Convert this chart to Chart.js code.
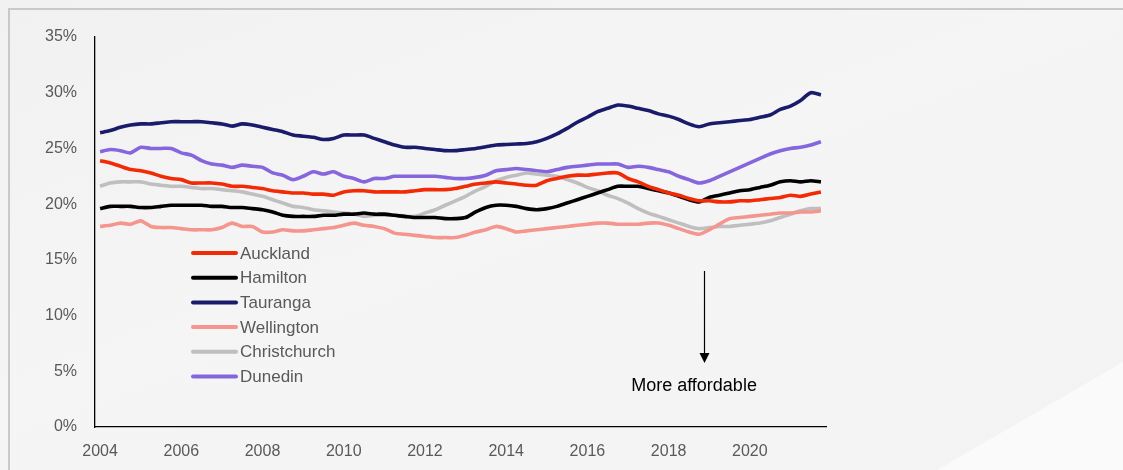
<!DOCTYPE html>
<html>
<head>
<meta charset="utf-8">
<script src="https://cdn.jsdelivr.net/npm/chart.js@4.4.1/dist/chart.umd.min.js"></script>
<style>
  html, body { margin: 0; padding: 0; }
  body {
    width: 1123px; height: 470px; overflow: hidden; position: relative;
    background: linear-gradient(160deg, #f1f1f1 0%, #f5f5f5 45%, #f3f3f3 100%);
  }
  #shine {
    position: absolute; left: 0; top: 0; width: 1123px; height: 470px;
    background: #fafafa;
    clip-path: polygon(937px 470px, 1123px 362px, 1123px 470px);
  }
  #frame {
    position: absolute; left: 8px; top: 8px; right: -10px; bottom: -10px;
    border-top: 2px solid #c9c9c9; border-left: 2px solid #c9c9c9;
  }
  #chart { position: absolute; left: 0; top: 0; }
</style>
</head>
<body>
<div id="shine"></div>
<div id="frame"></div>
<canvas id="chart" width="1123" height="470"></canvas>
<script>
// Quarterly series, 2004 Q1 - 2021 Q4
const years = [2004, 2005, 2006, 2007, 2008, 2009, 2010, 2011, 2012,
               2013, 2014, 2015, 2016, 2017, 2018, 2019, 2020, 2021];
const quarters = [];
years.forEach(y => { for (let q = 1; q <= 4; q++) quarters.push(y + " Q" + q); });

const auckland = [
  23.9, 23.7, 23.4, 23.1, 23.0, 22.8, 22.5, 22.3, 22.2, 21.9, 21.9, 21.9,
  21.8, 21.6, 21.6, 21.5, 21.4, 21.2, 21.1, 21.0, 21.0, 20.9, 20.9, 20.8,
  21.1, 21.2, 21.2, 21.1, 21.1, 21.1, 21.1, 21.2, 21.3, 21.3, 21.3, 21.4,
  21.6, 21.8, 21.9, 22.0, 21.9, 21.8, 21.7, 21.7, 22.1, 22.3, 22.5, 22.6,
  22.6, 22.7, 22.8, 22.8, 22.3, 22.0, 21.6, 21.3, 21.0, 20.8, 20.5, 20.3,
  20.3, 20.2, 20.2, 20.3, 20.3, 20.4, 20.5, 20.6, 20.8, 20.7, 20.9, 21.1
];
const hamilton = [
  19.6, 19.8, 19.8, 19.8, 19.7, 19.7, 19.8, 19.9, 19.9, 19.9, 19.9, 19.8,
  19.8, 19.7, 19.7, 19.6, 19.5, 19.3, 19.0, 18.9, 18.9, 18.9, 19.0, 19.0,
  19.1, 19.1, 19.2, 19.1, 19.1, 19.0, 18.9, 18.8, 18.8, 18.8, 18.7, 18.7,
  18.8, 19.3, 19.7, 19.9, 19.9, 19.8, 19.6, 19.5, 19.6, 19.8, 20.1, 20.4,
  20.7, 21.0, 21.3, 21.6, 21.6, 21.6, 21.4, 21.2, 21.0, 20.7, 20.4, 20.2,
  20.6, 20.8, 21.0, 21.2, 21.3, 21.5, 21.7, 22.0, 22.1, 22.0, 22.1, 22.0
];
const tauranga = [
  26.4, 26.6, 26.9, 27.1, 27.2, 27.2, 27.3, 27.4, 27.4, 27.4, 27.4, 27.3,
  27.2, 27.0, 27.2, 27.1, 26.9, 26.7, 26.5, 26.2, 26.1, 26.0, 25.8, 25.9,
  26.2, 26.2, 26.2, 25.9, 25.6, 25.3, 25.1, 25.1, 25.0, 24.9, 24.8, 24.8,
  24.9, 25.0, 25.15, 25.3, 25.35, 25.4, 25.45, 25.6, 25.9, 26.3, 26.8, 27.35,
  27.8, 28.3, 28.6, 28.9, 28.8, 28.6, 28.4, 28.1, 27.9, 27.6, 27.2, 26.95,
  27.2, 27.3, 27.4, 27.5, 27.6, 27.8, 28.0, 28.5, 28.8, 29.3, 30.0, 29.8
];
const wellington = [
  18.0, 18.1, 18.3, 18.2, 18.5, 18.0, 17.9, 17.9, 17.8, 17.7, 17.7, 17.7,
  17.9, 18.3, 18.0, 18.0, 17.5, 17.5, 17.7, 17.6, 17.6, 17.7, 17.8, 17.9,
  18.1, 18.3, 18.1, 18.0, 17.8, 17.4, 17.3, 17.2, 17.1, 17.0, 17.0, 17.0,
  17.2, 17.5, 17.7, 18.0, 17.8, 17.5, 17.6, 17.7, 17.8, 17.9, 18.0, 18.1,
  18.2, 18.3, 18.3, 18.2, 18.2, 18.2, 18.3, 18.3, 18.1, 17.8, 17.5, 17.3,
  17.7, 18.2, 18.7, 18.8, 18.9, 19.0, 19.1, 19.2, 19.2, 19.3, 19.3, 19.4
];
const christchurch = [
  21.6, 21.9, 22.0, 22.0, 22.0, 21.8, 21.7, 21.6, 21.6, 21.5, 21.4, 21.4,
  21.3, 21.2, 21.1, 20.9, 20.7, 20.4, 20.1, 19.8, 19.7, 19.5, 19.4, 19.3,
  19.2, 19.1, 18.9, 19.0, 19.0, 19.0, 18.9, 18.9, 19.2, 19.5, 19.9, 20.3,
  20.7, 21.2, 21.6, 22.1, 22.4, 22.6, 22.8, 22.7, 22.6, 22.5, 22.2, 21.9,
  21.5, 21.2, 20.8, 20.5, 20.1, 19.6, 19.2, 18.9, 18.6, 18.3, 18.0, 17.8,
  17.9, 18.0, 18.0, 18.1, 18.2, 18.3, 18.5, 18.8, 19.1, 19.4, 19.6, 19.6
];
const dunedin = [
  24.7, 24.9, 24.8, 24.6, 25.1, 25.0, 25.0, 25.0, 24.6, 24.4, 23.9, 23.6,
  23.5, 23.3, 23.5, 23.4, 23.3, 22.8, 22.6, 22.2, 22.5, 22.9, 22.7, 22.9,
  22.5, 22.3, 22.0, 22.3, 22.3, 22.5, 22.5, 22.5, 22.5, 22.5, 22.4, 22.3,
  22.3, 22.4, 22.6, 23.0, 23.1, 23.2, 23.1, 23.0, 22.9, 23.1, 23.3, 23.4,
  23.5, 23.6, 23.6, 23.6, 23.3, 23.4, 23.3, 23.1, 22.9, 22.5, 22.2, 21.9,
  22.1, 22.5, 22.9, 23.3, 23.7, 24.1, 24.5, 24.8, 25.0, 25.1, 25.3, 25.6
];

const seriesNames = ["Auckland", "Hamilton", "Tauranga", "Wellington", "Christchurch", "Dunedin"];
const seriesData = [auckland, hamilton, tauranga, wellington, christchurch, dunedin];
const seriesColors = ["#f22a05", "#000000", "#1b1b6b", "#f4968d", "#bfbfbf", "#8566dd"];

const yTicks = [0, 5, 10, 15, 20, 25, 30, 35];

// legend drawn inside the plot, Excel style
const insideLegend = {
  id: "insideLegend",
  afterDraw(chart) {
    const ctx = chart.ctx;
    ctx.save();
    ctx.font = "17px 'Liberation Sans', Arial, sans-serif";
    ctx.textBaseline = "middle";
    chart.data.datasets.forEach((ds, i) => {
      const y = 253 + i * 24.7;
      ctx.strokeStyle = ds.borderColor;
      ctx.lineWidth = 4;
      ctx.lineCap = "round";
      ctx.beginPath();
      ctx.moveTo(193, y);
      ctx.lineTo(236, y);
      ctx.stroke();
      ctx.fillStyle = "#595959";
      ctx.fillText(ds.label, 240, y + 1);
    });
    ctx.restore();
  }
};

// "More affordable" arrow
const arrowNote = {
  id: "arrowNote",
  afterDraw(chart) {
    const xs = chart.scales.x, ys = chart.scales.y, ctx = chart.ctx;
    const x = Math.round(xs.getPixelForValue(59.5)) + 0.5;
    const y1 = ys.getPixelForValue(14.0), y2 = ys.getPixelForValue(5.75);
    ctx.save();
    ctx.strokeStyle = "#000";
    ctx.fillStyle = "#000";
    ctx.lineWidth = 1.2;
    ctx.beginPath();
    ctx.moveTo(x, y1);
    ctx.lineTo(x, y2 - 8);
    ctx.stroke();
    ctx.beginPath();
    ctx.moveTo(x - 5, y2 - 10);
    ctx.lineTo(x + 5, y2 - 10);
    ctx.lineTo(x, y2);
    ctx.closePath();
    ctx.fill();
    ctx.font = "18px 'Liberation Sans', Arial, sans-serif";
    ctx.textAlign = "center";
    ctx.textBaseline = "middle";
    ctx.fillText("More affordable", xs.getPixelForValue(58.5), ys.getPixelForValue(3.7));
    ctx.restore();
  }
};

new Chart(document.getElementById("chart"), {
  type: "line",
  data: {
    labels: quarters,
    datasets: seriesNames.map((name, i) => ({
      label: name,
      data: seriesData[i],
      borderColor: seriesColors[i],
      backgroundColor: seriesColors[i],
      borderWidth: 3.6,
      pointRadius: 0,
      tension: 0.25,
      fill: false
    }))
  },
  options: {
    responsive: false,
    animation: false,
    layout: { padding: { top: 37, right: 297, bottom: 0, left: 0 } },
    plugins: { legend: { display: false }, tooltip: { enabled: false } },
    scales: {
      x: {
        offset: true,
        grid: { display: false, drawTicks: false },
        border: { display: true, color: "#000", width: 1.3 },
        ticks: {
          autoSkip: false,
          maxRotation: 0,
          padding: 15,
          color: "#595959",
          font: { family: "'Liberation Sans', Arial, sans-serif", size: 16 },
          callback: (v, i) => (i % 8 === 0 ? quarters[i].slice(0, 4) : "")
        },
        afterFit: s => { s.height = 43; }
      },
      y: {
        min: 0,
        max: 35,
        grid: { display: false, drawTicks: false },
        border: { display: true, color: "#000", width: 1.3 },
        afterBuildTicks: s => { s.ticks = yTicks.map(v => ({ value: v })); },
        ticks: {
          padding: 18,
          color: "#595959",
          font: { family: "'Liberation Sans', Arial, sans-serif", size: 16 },
          callback: v => v + "%"
        },
        afterFit: s => { s.width = 95; }
      }
    }
  },
  plugins: [insideLegend, arrowNote]
});
</script>
</body>
</html>
